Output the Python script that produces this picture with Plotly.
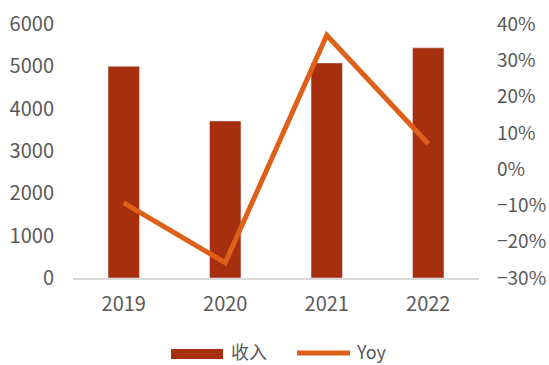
import plotly.graph_objects as go

years = ["2019", "2020", "2021", "2022"]
revenue = [5000, 3710, 5080, 5437]
yoy = [-0.093, -0.258, 0.369, 0.070]
left_ticks = [0, 1000, 2000, 3000, 4000, 5000, 6000]
right_ticks = [-0.3, -0.2, -0.1, 0.0, 0.1, 0.2, 0.3, 0.4]

BAR = "#A52F0F"
LINE = "#DE5F18"
TXT = "#595959"
FONT = "Noto Sans CJK SC"

fig = go.Figure()
fig.add_trace(go.Bar(x=years, y=revenue, name="收入", marker_color=BAR,
                     width=0.31, yaxis="y", showlegend=False))
fig.add_trace(go.Scatter(x=years, y=yoy, name="Yoy", mode="lines",
                         line=dict(color=LINE, width=5), yaxis="y2", showlegend=False))

fig.update_layout(
    width=549, height=365,
    margin=dict(l=73, r=70, t=24, b=87),
    plot_bgcolor="white", paper_bgcolor="white",
    font=dict(family=FONT, size=20, color=TXT),
    xaxis=dict(showline=True, linecolor="#D9D9D9", linewidth=2, ticks="",
               showgrid=False, tickfont=dict(size=20, color=TXT), ticklabelstandoff=7,
               automargin=False),
    yaxis=dict(range=[0, 6000], tickvals=left_ticks, showgrid=False, zeroline=False,
               showline=False, ticks="", ticklabelstandoff=18,
               tickfont=dict(size=20, color=TXT), automargin=False),
    yaxis2=dict(range=[-0.3, 0.4], tickvals=right_ticks, tickformat=".0%",
                overlaying="y", side="right", showgrid=False, zeroline=False,
                showline=False, ticks="", ticklabelstandoff=17,
                tickfont=dict(size=19, color=TXT), automargin=False),
    bargap=0.69,
)

# custom legend
fig.add_shape(type="rect", xref="paper", yref="paper",
              x0=(171 - 73) / 406, x1=(223 - 73) / 406,
              y0=-(349 - 278) / 254, y1=-(359 - 278) / 254,
              fillcolor=BAR, line=dict(width=0))
fig.add_annotation(text="收入", xref="paper", yref="paper",
                   x=(229 - 73) / 406, y=-(351 - 278) / 254,
                   xanchor="left", yanchor="middle", showarrow=False,
                   font=dict(size=18, color=TXT, family=FONT))
fig.add_shape(type="line", xref="paper", yref="paper",
              x0=(297 - 73) / 406, x1=(350 - 73) / 406,
              y0=-(353 - 278) / 254, y1=-(353 - 278) / 254,
              line=dict(color=LINE, width=5))
fig.add_annotation(text="Yoy", xref="paper", yref="paper",
                   x=(354 - 73) / 406, y=-(351 - 278) / 254,
                   xanchor="left", yanchor="middle", showarrow=False,
                   font=dict(size=18, color=TXT, family=FONT))

fig.write_html("out.html")
